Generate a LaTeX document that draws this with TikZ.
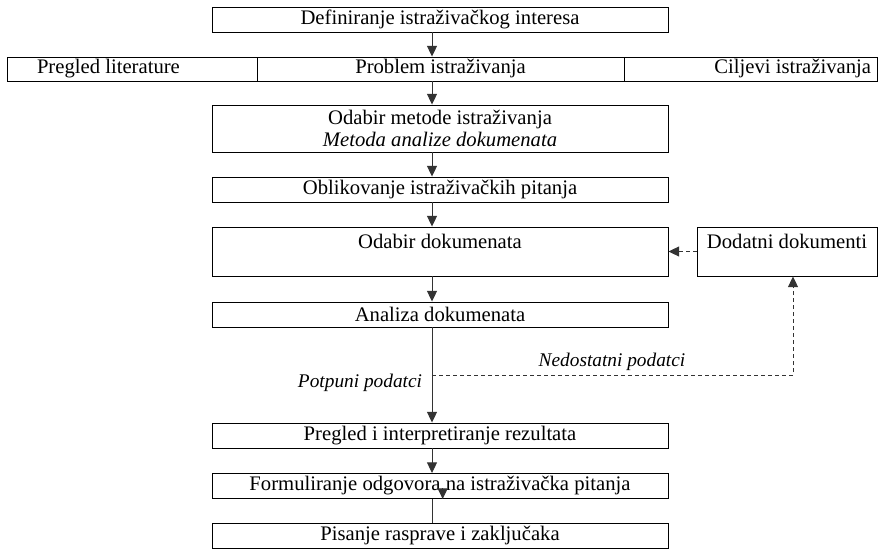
\documentclass[tikz,border=0pt]{standalone}
\usepackage{fontspec}
\setmainfont{Liberation Serif}
\usetikzlibrary{arrows.meta}

\begin{document}
\begin{tikzpicture}  % ------ Tijek istrazivanja --------------
      [x=0.75pt,y=-0.75pt,
       korak/.style={draw,line width=0.7pt,minimum width=342pt,minimum height=18.75pt,
                     inner sep=0pt,align=center,font=\fontsize{15.5}{16}\selectfont},
       celija/.style={korak,minimum height=18pt},
       strelica/.style={draw=black!80,line width=0.7pt,-{Triangle[length=8pt,width=7.5pt]}},
       crtkano/.style={strelica,dash pattern=on 3pt off 2.25pt},
       oznaka/.style={inner sep=0pt,font=\fontsize{14.5}{16}\selectfont\itshape}]
    \useasboundingbox (0,0) rectangle (884,549);
    \coordinate (os) at (432,0);
    \coordinate (skret) at (793,375);

    \node[korak] (def) at (440,19.5) {Definiranje istraživačkog interesa};
    \node[celija,minimum width=187.5pt,inner xsep=22.5pt,text width=142.5pt,align=flush left]
         (lit) at (132,69) {Pregled literature};
    \node[celija,minimum width=275.25pt] (prob) at (440.5,69) {Problem istraživanja};
    \node[celija,minimum width=189.75pt,inner xsep=4.5pt,text width=180.75pt,align=flush right]
         (cilj) at (750.5,69) {Ciljevi istraživanja};
    \node[korak,minimum height=35.25pt] (met) at (440,128.5)
         {Odabir metode istraživanja\\ \textit{Metoda analize dokumenata}};
    \node[korak] (pit) at (440,189.5) {Oblikovanje istraživačkih pitanja};
    \node[korak,minimum height=36.75pt] (odab) at (440,251.5) {Odabir dokumenata\\ \mbox{}};
    \node[korak,minimum width=135pt,minimum height=36.75pt] (dod) at (787,251.5)
         {Dodatni dokumenti\\ \mbox{}};
    \node[korak] (anal) at (440,314.5) {Analiza dokumenata};
    \node[korak] (rez) at (440,435.5) {Pregled i interpretiranje rezultata};
    \node[korak] (form) at (440,486) {Formuliranje odgovora na istraživačka pitanja};
    \node[korak] (pis) at (440,535.5) {Pisanje rasprave i zaključaka};

    % ------ strelice --------------
    \draw[strelica] (def.south -| os) -- (prob.north -| os);
    \draw[strelica] (prob.south -| os) -- (met.north -| os);
    \draw[strelica] (met.south -| os) -- (pit.north -| os);
    \draw[strelica] (pit.south -| os) -- (odab.north -| os);
    \draw[strelica] (odab.south -| os) -- (anal.north -| os);
    \draw[strelica] (anal.south -| os) -- (rez.north -| os);
    \draw[strelica] (rez.south -| os) -- (form.north -| os);
    \draw[draw=black!80,line width=0.7pt] (form.south -| os) -- (pis.north -| os);
    \draw[strelica] ([xshift=8pt,yshift=8pt]form.south -| os) -- ([xshift=8pt]form.south -| os);

    \draw[crtkano] (dod.west) -- (odab.east);
    \draw[crtkano] (os |- skret) -- (skret) -- (dod.south -| skret);

    \node[oznaka] (ned) at (612,362) {Nedostatni podatci};
    \node[oznaka] (pot) at (360,383) {Potpuni podatci};
\end{tikzpicture}
\end{document}
